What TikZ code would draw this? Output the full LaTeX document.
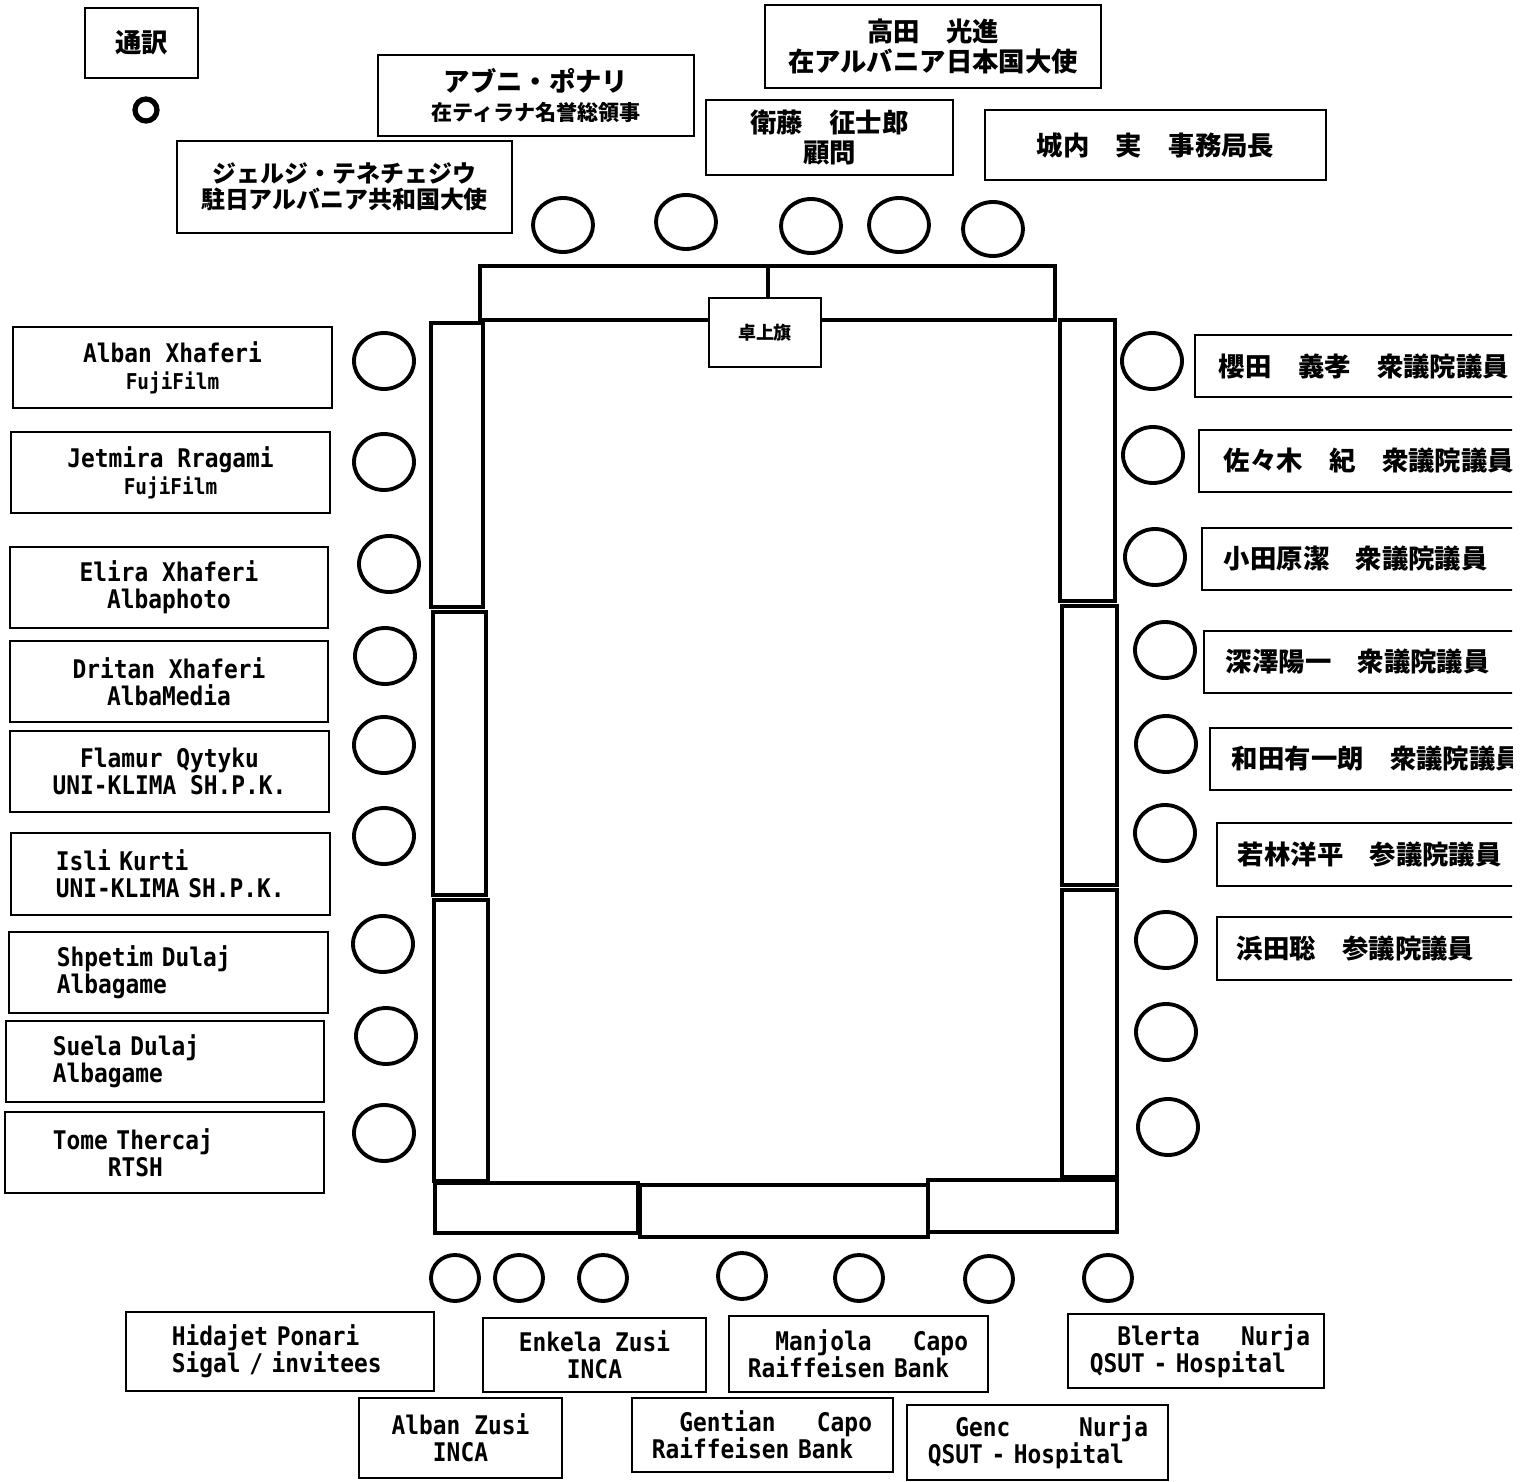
\documentclass[tikz,border=0pt]{standalone}
\usepackage{fontspec}
\newfontfamily\jpgothic{Noto Sans CJK JP}
\newfontfamily\latinmono[FakeStretch=0.89]{DejaVu Sans Mono}
\newcommand{\pxunit}{0.01cm}
% every space as wide as a letter
\newcommand{\fixedspaces}{\fontdimen2\font=\fontcharwd\font`x\relax\fontdimen3\font=0pt\fontdimen4\font=0pt\relax}
\tikzset{
    node style box/.style={draw,line width=0.7pt,inner sep=0pt,align=center},
    node style en/.style={node style box,font=\latinmono\bfseries\fontsize{7.3}{7.7}\selectfont\fixedspaces},
    node style jp/.style={node style box,font=\jpgothic\bfseries\fontsize{7.5}{8.5}\selectfont},
    table style/.style={draw,line width=1.4pt},
    seat style/.style={draw,line width=1.1pt},
}
\newcommand{\smallen}{\fontsize{6.2}{7}\selectfont}
\newcommand{\smalljp}{\fontsize{6}{7}\selectfont}

\begin{document}
\begin{tikzpicture}[x=\pxunit,y=-\pxunit]
\useasboundingbox (0,0) rectangle (1520,1482);

% head table and flag
\draw[table style] (480,266) rectangle (1055,320);
\node[node style box,fill=white,minimum width=1.12cm,minimum height=0.69cm,
      font=\jpgothic\bfseries\fontsize{5.1}{6}\selectfont] (flag) at (765,332.5) {卓上旗};
\draw[table style] (768,266) -- (768,298);

% side tables
\draw[table style] (431,323) rectangle (483,607);
\draw[table style] (433,612) rectangle (486,895);
\draw[table style] (434,900) rectangle (488,1181);
\draw[table style] (1060,320) rectangle (1115,601);
\draw[table style] (1062,606) rectangle (1117,885);
\draw[table style] (1062,890) rectangle (1117,1177);

% bottom tables
\draw[table style] (435,1183) rectangle (638,1233);
\draw[table style] (640,1185) rectangle (928,1237);
\draw[table style] (928,1180) rectangle (1117,1232);

% seats
\draw[seat style] (563,225) ellipse (30 and 27) (686,222) ellipse (30 and 27)
      (811,226) ellipse (30 and 27) (899,225) ellipse (30 and 27) (993,229) ellipse (30 and 27);
\draw[seat style] (384,361) ellipse (30 and 28) (384,462) ellipse (30 and 28)
      (389,564) ellipse (30 and 28) (385,656) ellipse (30 and 28) (384,745) ellipse (30 and 28)
      (384,836) ellipse (30 and 28) (383,944) ellipse (30 and 28) (386,1036) ellipse (30 and 28)
      (384,1133) ellipse (30 and 28);
\draw[seat style] (1152,361) ellipse (30 and 28) (1153,455) ellipse (30 and 28)
      (1155,557) ellipse (30 and 28) (1165,650) ellipse (30 and 28) (1166,744) ellipse (30 and 28)
      (1165,833) ellipse (30 and 28) (1166,940) ellipse (30 and 28) (1166,1032) ellipse (30 and 28)
      (1168,1127) ellipse (30 and 28);
\draw[seat style] (455,1278) ellipse (24 and 23) (519,1278) ellipse (24 and 23)
      (603,1278) ellipse (24 and 23) (742,1276) ellipse (24 and 23) (859,1278) ellipse (24 and 23)
      (989,1279) ellipse (24 and 23) (1108,1278) ellipse (24 and 23);

% interpreter
\node[node style jp,minimum width=1.13cm,minimum height=0.70cm] (tsuyaku) at (141.5,43) {通訳};
\draw[line width=1.5pt] (146,110) circle (11);

% guests at the head table
\node[node style jp,minimum width=3.16cm,minimum height=0.81cm] (ponari) at (536,95.5)
     {アブニ・ポナリ\\{\smalljp 在ティラナ名誉総領事}};
\node[node style jp,minimum width=3.35cm,minimum height=0.92cm,
      font=\jpgothic\bfseries\fontsize{6.8}{7.4}\selectfont] (tenecejiu) at (344.5,187)
     {ジェルジ・テネチェジウ\\駐日アルバニア共和国大使};
\node[node style jp,minimum width=3.36cm,minimum height=0.83cm] (takata) at (933,46.5)
     {高田　光進\\在アルバニア日本国大使};
\node[node style jp,minimum width=2.47cm,minimum height=0.75cm] (eto) at (829.5,137.5)
     {衛藤　征士郎\\顧問};
\node[node style jp,minimum width=3.41cm,minimum height=0.70cm] (kiuchi) at (1155.5,145)
     {城内　実　事務局長};

% left side
\node[node style en,minimum width=3.19cm,minimum height=0.81cm] (albanx) at (172.5,367.5)
     {Alban Xhaferi\\{\smallen FujiFilm}};
\node[node style en,minimum width=3.19cm,minimum height=0.81cm] (jetmira) at (170.5,472.5)
     {Jetmira Rragami\\{\smallen FujiFilm}};
\node[node style en,minimum width=3.18cm,minimum height=0.81cm] (elira) at (169,587.5)
     {Elira Xhaferi\\Albaphoto};
\node[node style en,minimum width=3.18cm,minimum height=0.81cm] (dritan) at (169,681.5)
     {Dritan Xhaferi\\AlbaMedia};
\node[node style en,minimum width=3.19cm,minimum height=0.81cm] (flamur) at (169.5,771.5)
     {Flamur Qytyku\\UNI-KLIMA SH.P.K.};
\node[node style en,align=left,text width=2.29cm,inner xsep=0.45cm,minimum height=0.82cm] (isli) at (170.5,874)
     {Isli Kurti\\UNI-KLIMA SH.P.K.};
\node[node style en,align=left,text width=2.23cm,inner xsep=0.48cm,minimum height=0.81cm] (shpetim) at (168.5,972.5)
     {Shpetim Dulaj\\Albagame};
\node[node style en,align=left,text width=2.24cm,inner xsep=0.47cm,minimum height=0.81cm] (suela) at (165,1061.5)
     {Suela Dulaj\\Albagame};
\node[node style en,align=left,text width=2.23cm,inner xsep=0.48cm,minimum height=0.81cm] (tome) at (164.5,1152.5)
     {Tome Thercaj\\\phantom{xxxx}RTSH};

% bottom
\node[node style en,align=left,text width=2.16cm,inner xsep=0.46cm,minimum height=0.79cm] (hidajet) at (280,1351.5)
     {Hidajet Ponari\\Sigal / invitees};
\node[node style en,minimum width=2.23cm,minimum height=0.74cm] (enkela) at (594.5,1355)
     {Enkela Zusi\\INCA};
\node[node style en,minimum width=2.03cm,minimum height=0.80cm] (albanz) at (460.5,1438)
     {Alban Zusi\\INCA};
\node[node style en,align=left,text width=2.21cm,inner xsep=0.19cm,minimum height=0.76cm] (manjola) at (858.5,1354)
     {\phantom{xx}Manjola\phantom{xxx}Capo\\Raiffeisen Bank};
\node[node style en,align=left,text width=2.21cm,inner xsep=0.20cm,minimum height=0.74cm] (gentian) at (762.5,1435)
     {\phantom{xx}Gentian\phantom{xxx}Capo\\Raiffeisen Bank};
\node[node style en,align=left,text width=2.19cm,inner xsep=0.21cm,minimum height=0.75cm] (genc) at (1037.5,1442.5)
     {\phantom{xx}Genc\phantom{xxxxx}Nurja\\QSUT - Hospital};
\node[node style en,align=left,text width=2.12cm,inner xsep=0.22cm,minimum height=0.74cm] (blerta) at (1196,1351)
     {\phantom{xx}Blerta\phantom{xxx}Nurja\\QSUT - Hospital};

% right side (cut at the page edge)
\begin{scope}
\clip (0,0) rectangle (1512,1482);
\node[node style jp,align=left,text width=3.17cm,inner xsep=0.24cm,minimum height=0.62cm] (sakurada) at (1377.5,366)
     {櫻田　義孝　衆議院議員};
\node[node style jp,align=left,text width=3.11cm,inner xsep=0.25cm,minimum height=0.62cm] (sasaki) at (1379.5,461)
     {佐々木　紀　衆議院議員};
\node[node style jp,align=left,text width=3.14cm,inner xsep=0.22cm,minimum height=0.62cm] (odawara) at (1381,559)
     {小田原潔　衆議院議員};
\node[node style jp,align=left,text width=3.12cm,inner xsep=0.22cm,minimum height=0.62cm] (fukazawa) at (1382,662)
     {深澤陽一　衆議院議員};
\node[node style jp,align=left,text width=3.06cm,inner xsep=0.22cm,minimum height=0.62cm] (wada) at (1385,759)
     {和田有一朗　衆議院議員};
\node[node style jp,align=left,text width=3.01cm,inner xsep=0.21cm,minimum height=0.63cm] (wakabayashi) at (1388.5,854.5)
     {若林洋平　参議院議員};
\node[node style jp,align=left,text width=3.03cm,inner xsep=0.20cm,minimum height=0.63cm] (hamada) at (1388.5,948.5)
     {浜田聡　参議院議員};
\end{scope}

\end{tikzpicture}
\end{document}
